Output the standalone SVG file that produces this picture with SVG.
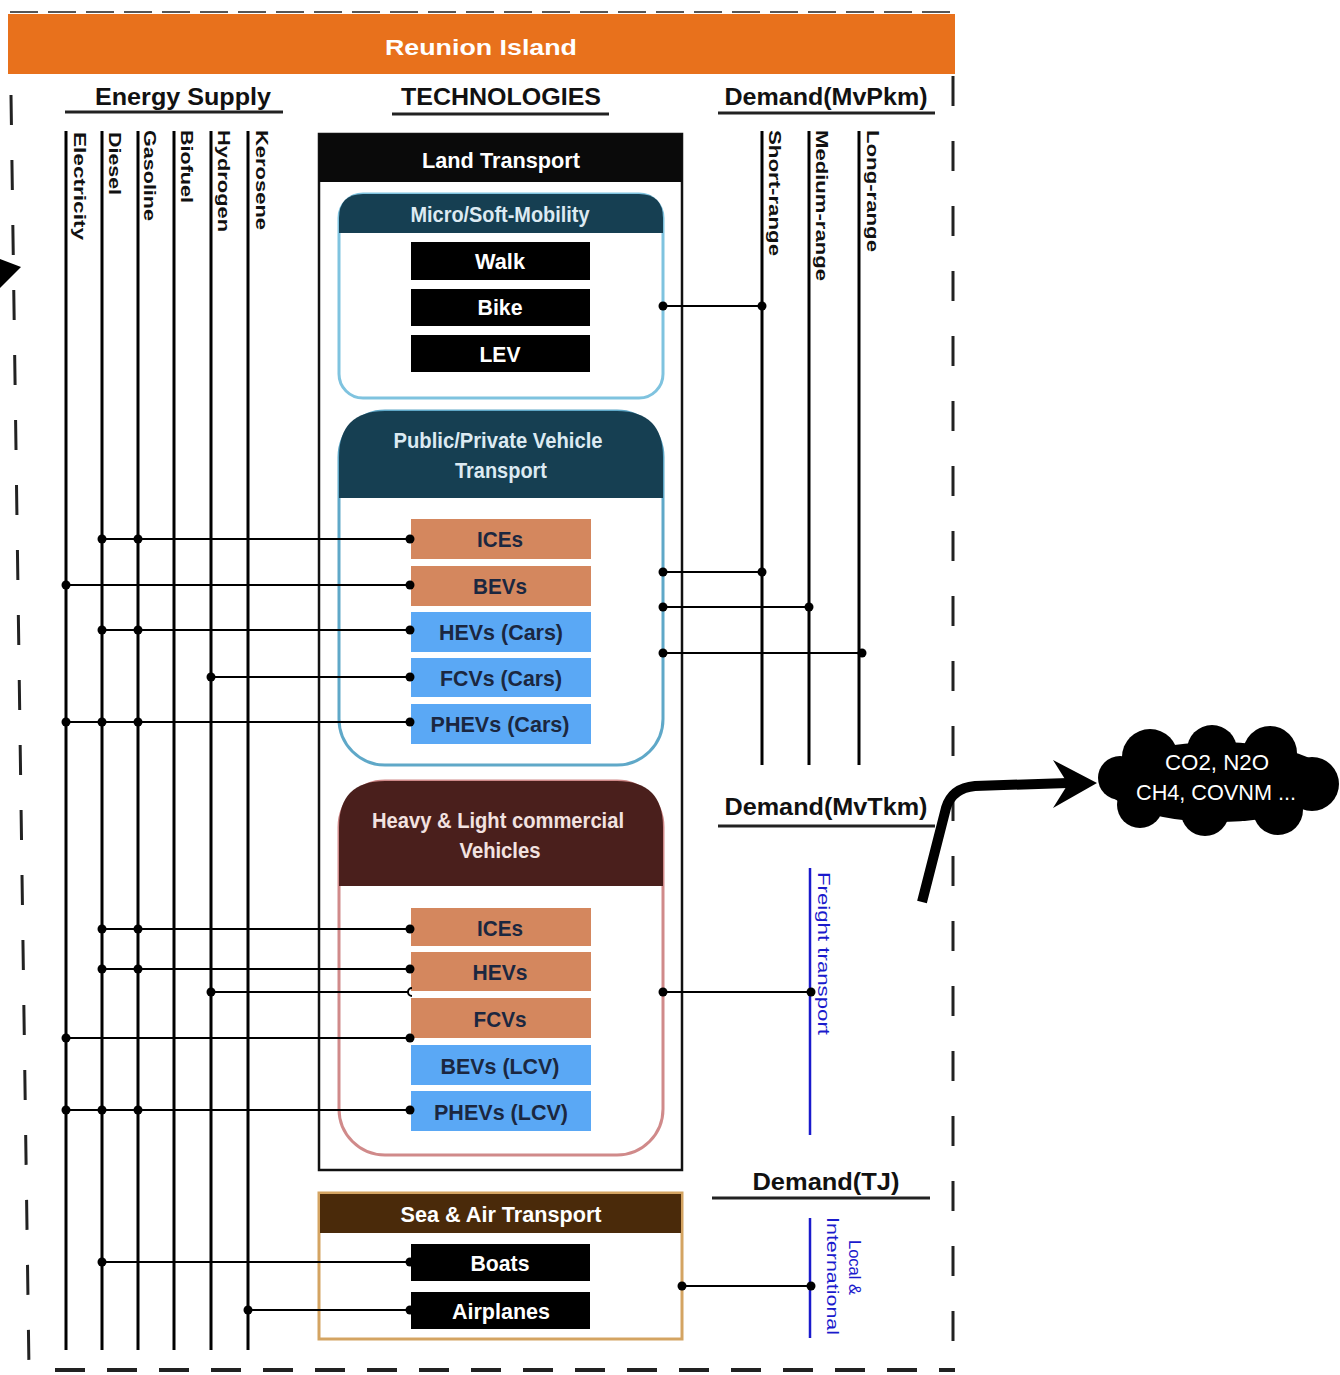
<svg xmlns="http://www.w3.org/2000/svg" width="1340" height="1375" viewBox="0 0 1340 1375">
<style>
text{font-family:"Liberation Sans",Arial,sans-serif;}
.hdr{font-weight:bold;font-size:24px;fill:#111;text-anchor:middle;}
.vl{font-weight:bold;font-size:17px;fill:#111;}
.wt{fill:#fff;font-weight:bold;font-size:22px;text-anchor:middle;}
.lt{fill:#dceaf2;font-weight:bold;font-size:22px;text-anchor:middle;}
.dk{fill:#1b2740;font-weight:bold;font-size:22px;text-anchor:middle;}
.blk{fill:#000;}
.org{fill:#d4875e;}
.blu{fill:#5aa8f5;}
.ln{stroke:#000;stroke-width:2;fill:none;}
.vln{stroke:#000;stroke-width:3;fill:none;}
.bl{stroke:#1a1acc;stroke-width:2.5;fill:none;}
.dash{stroke:#222;stroke-width:3;fill:none;stroke-dasharray:30 35;}
.ul{stroke:#222;stroke-width:3;}
</style>
<rect width="1340" height="1375" fill="#fff"/>

<!-- frame -->
<g id="frame">
<rect x="8" y="14" width="947" height="60" fill="#e8711c"/>
<line x1="10" y1="12" x2="955" y2="12" stroke="#555" stroke-width="2" stroke-dasharray="28 10"/>
<text x="481" y="55" class="wt" font-size="27" textLength="192" lengthAdjust="spacingAndGlyphs">Reunion Island</text>
<line x1="953" y1="76" x2="953" y2="1345" class="dash"/>
<line x1="11" y1="95" x2="29" y2="1370" class="dash"/>
<line x1="55" y1="1370" x2="955" y2="1370" stroke="#222" stroke-width="4" stroke-dasharray="30 22"/>
<polygon points="0,259 21,267 0,288" fill="#000"/>
</g>

<!-- column headers -->
<g id="headers">
<text x="183" y="105" class="hdr" textLength="176" lengthAdjust="spacingAndGlyphs">Energy Supply</text>
<line x1="65" y1="112" x2="283" y2="112" class="ul"/>
<text x="501" y="105" class="hdr" textLength="200" lengthAdjust="spacingAndGlyphs">TECHNOLOGIES</text>
<line x1="392" y1="114" x2="609" y2="114" class="ul"/>
<text x="826" y="105" class="hdr" textLength="203" lengthAdjust="spacingAndGlyphs">Demand(MvPkm)</text>
<line x1="718" y1="113" x2="935" y2="113" class="ul"/>
<text x="826" y="815" class="hdr" textLength="203" lengthAdjust="spacingAndGlyphs">Demand(MvTkm)</text>
<line x1="718" y1="826" x2="935" y2="826" class="ul"/>
<text x="826" y="1190" class="hdr" textLength="147" lengthAdjust="spacingAndGlyphs">Demand(TJ)</text>
<line x1="712" y1="1198" x2="930" y2="1198" class="ul"/>
</g>

<!-- energy supply lines -->
<g id="energy-supply">
<line x1="66" y1="131" x2="66" y2="1350" class="vln"/>
<line x1="102" y1="131" x2="102" y2="1350" class="vln"/>
<line x1="138" y1="131" x2="138" y2="1350" class="vln"/>
<line x1="174" y1="131" x2="174" y2="1350" class="vln"/>
<line x1="211" y1="131" x2="211" y2="1350" class="vln"/>
<line x1="248" y1="131" x2="248" y2="1350" class="vln"/>
<text class="vl" transform="translate(74,132) rotate(90)" textLength="108" lengthAdjust="spacingAndGlyphs">Electricity</text>
<text class="vl" transform="translate(109,132) rotate(90)" textLength="63" lengthAdjust="spacingAndGlyphs">Diesel</text>
<text class="vl" transform="translate(144,130) rotate(90)" textLength="91" lengthAdjust="spacingAndGlyphs">Gasoline</text>
<text class="vl" transform="translate(181,130) rotate(90)" textLength="73" lengthAdjust="spacingAndGlyphs">Biofuel</text>
<text class="vl" transform="translate(218,130) rotate(90)" textLength="102" lengthAdjust="spacingAndGlyphs">Hydrogen</text>
<text class="vl" transform="translate(256,130) rotate(90)" textLength="100" lengthAdjust="spacingAndGlyphs">Kerosene</text>
</g>

<!-- demand lines -->
<g id="demand">
<line x1="762" y1="131" x2="762" y2="765" class="vln"/>
<line x1="809" y1="131" x2="809" y2="765" class="vln"/>
<line x1="859" y1="131" x2="859" y2="765" class="vln"/>
<text class="vl" transform="translate(769,130) rotate(90)" textLength="126" lengthAdjust="spacingAndGlyphs">Short-range</text>
<text class="vl" transform="translate(816,130) rotate(90)" textLength="151" lengthAdjust="spacingAndGlyphs">Medium-range</text>
<text class="vl" transform="translate(867,130) rotate(90)" textLength="122" lengthAdjust="spacingAndGlyphs">Long-range</text>
<line x1="810" y1="868" x2="810" y2="1135" class="bl"/>
<text transform="translate(818,872) rotate(90)" font-size="17" fill="#1a1acc" textLength="163" lengthAdjust="spacingAndGlyphs">Freight transport</text>
<line x1="810" y1="1218" x2="810" y2="1338" class="bl"/>
<text transform="translate(827,1217) rotate(90)" font-size="16" fill="#1a1acc" textLength="118" lengthAdjust="spacingAndGlyphs">International</text>
<text transform="translate(849,1240) rotate(90)" font-size="16" fill="#1a1acc" textLength="55" lengthAdjust="spacingAndGlyphs">Local &amp;</text>
</g>

<!-- Land transport -->
<g id="land-transport">
<rect x="319" y="134" width="363" height="1036" fill="#fff" stroke="#111" stroke-width="2.5"/>
<rect x="319" y="134" width="363" height="48" fill="#0a0a0a"/>
<text x="501" y="168" class="wt" font-size="23" textLength="158" lengthAdjust="spacingAndGlyphs">Land Transport</text>
</g>

<g id="micro-mobility">
<rect x="339" y="194" width="324" height="204" rx="24" fill="#fff" stroke="#7fc3df" stroke-width="3"/>
<path d="M339,233 V218 Q339,194 363,194 H639 Q663,194 663,218 V233 Z" fill="#163f52"/>
<text x="500" y="222" class="lt" font-size="21" textLength="179" lengthAdjust="spacingAndGlyphs">Micro/Soft-Mobility</text>
</g>
<g id="walk"><rect x="411" y="242" width="179" height="38" class="blk"/><text x="500" y="269" class="wt" textLength="50" lengthAdjust="spacingAndGlyphs">Walk</text></g>
<g id="bike"><rect x="411" y="289" width="179" height="37" class="blk"/><text x="500" y="315" class="wt" textLength="45" lengthAdjust="spacingAndGlyphs">Bike</text></g>
<g id="lev"><rect x="411" y="335" width="179" height="37" class="blk"/><text x="500" y="362" class="wt" textLength="41" lengthAdjust="spacingAndGlyphs">LEV</text></g>

<g id="public-private">
<rect x="339" y="411" width="324" height="354" rx="46" fill="#fff" stroke="#5fa8c8" stroke-width="3"/>
<path d="M339,498 V457 Q339,411 385,411 H617 Q663,411 663,457 V498 Z" fill="#163f52"/>
<text x="498" y="448" class="lt" textLength="209" lengthAdjust="spacingAndGlyphs">Public/Private Vehicle</text>
<text x="501" y="478" class="lt" textLength="92" lengthAdjust="spacingAndGlyphs">Transport</text>
</g>
<g id="p-ices"><rect x="411" y="519" width="180" height="40" class="org"/><text x="500" y="547" class="dk" textLength="46" lengthAdjust="spacingAndGlyphs">ICEs</text></g>
<g id="p-bevs"><rect x="411" y="566" width="180" height="40" class="org"/><text x="500" y="594" class="dk" textLength="54" lengthAdjust="spacingAndGlyphs">BEVs</text></g>
<g id="p-hevs"><rect x="411" y="612" width="180" height="40" class="blu"/><text x="501" y="640" class="dk" textLength="124" lengthAdjust="spacingAndGlyphs">HEVs (Cars)</text></g>
<g id="p-fcvs"><rect x="411" y="658" width="180" height="39" class="blu"/><text x="501" y="686" class="dk" textLength="122" lengthAdjust="spacingAndGlyphs">FCVs (Cars)</text></g>
<g id="p-phevs"><rect x="411" y="704" width="180" height="40" class="blu"/><text x="500" y="732" class="dk" textLength="139" lengthAdjust="spacingAndGlyphs">PHEVs (Cars)</text></g>

<g id="heavy-light">
<rect x="339" y="781" width="324" height="374" rx="46" fill="#fff" stroke="#d08a8a" stroke-width="3"/>
<path d="M339,886 V827 Q339,781 385,781 H617 Q663,781 663,827 V886 Z" fill="#4a1f1c"/>
<text x="498" y="828" fill="#f2e2e0" font-weight="bold" font-size="22" text-anchor="middle" textLength="252" lengthAdjust="spacingAndGlyphs">Heavy &amp; Light commercial</text>
<text x="500" y="858" fill="#f2e2e0" font-weight="bold" font-size="22" text-anchor="middle" textLength="81" lengthAdjust="spacingAndGlyphs">Vehicles</text>
</g>
<g id="h-ices"><rect x="411" y="908" width="180" height="38" class="org"/><text x="500" y="936" class="dk" textLength="46" lengthAdjust="spacingAndGlyphs">ICEs</text></g>
<g id="h-hevs"><rect x="411" y="952" width="180" height="39" class="org"/><text x="500" y="980" class="dk" textLength="55" lengthAdjust="spacingAndGlyphs">HEVs</text></g>
<g id="h-fcvs"><rect x="411" y="998" width="180" height="40" class="org"/><text x="500" y="1027" class="dk" textLength="53" lengthAdjust="spacingAndGlyphs">FCVs</text></g>
<g id="h-bevs"><rect x="411" y="1045" width="180" height="40" class="blu"/><text x="500" y="1074" class="dk" textLength="119" lengthAdjust="spacingAndGlyphs">BEVs (LCV)</text></g>
<g id="h-phevs"><rect x="411" y="1091" width="180" height="40" class="blu"/><text x="501" y="1120" class="dk" textLength="134" lengthAdjust="spacingAndGlyphs">PHEVs (LCV)</text></g>

<g id="sea-air">
<rect x="319" y="1193" width="363" height="146" fill="#fff" stroke="#d4a462" stroke-width="3"/>
<rect x="320" y="1194" width="361" height="39" fill="#4a2a0a"/>
<text x="501" y="1222" class="wt" textLength="201" lengthAdjust="spacingAndGlyphs">Sea &amp; Air Transport</text>
</g>
<g id="boats"><rect x="411" y="1244" width="179" height="37" class="blk"/><text x="500" y="1271" class="wt" textLength="59" lengthAdjust="spacingAndGlyphs">Boats</text></g>
<g id="airplanes"><rect x="411" y="1292" width="179" height="37" class="blk"/><text x="501" y="1319" class="wt" textLength="98" lengthAdjust="spacingAndGlyphs">Airplanes</text></g>

<!-- connectors -->
<g id="connectors" fill="#000">
<g class="ln">
<line x1="102" y1="539" x2="410" y2="539"/>
<line x1="66" y1="585" x2="410" y2="585"/>
<line x1="102" y1="630" x2="410" y2="630"/>
<line x1="211" y1="677" x2="410" y2="677"/>
<line x1="66" y1="722" x2="410" y2="722"/>
<line x1="102" y1="929" x2="410" y2="929"/>
<line x1="102" y1="969" x2="410" y2="969"/>
<line x1="211" y1="992" x2="409" y2="992"/>
<line x1="66" y1="1038" x2="410" y2="1038"/>
<line x1="66" y1="1110" x2="410" y2="1110"/>
<line x1="102" y1="1262" x2="410" y2="1262"/>
<line x1="248" y1="1310" x2="410" y2="1310"/>
<line x1="663" y1="306" x2="762" y2="306"/>
<line x1="663" y1="572" x2="762" y2="572"/>
<line x1="663" y1="607" x2="809" y2="607"/>
<line x1="663" y1="653" x2="862" y2="653"/>
<line x1="663" y1="992" x2="811" y2="992"/>
<line x1="682" y1="1286" x2="811" y2="1286"/>
<path d="M412,988 A4,4 0 0 0 412,996"/>
</g>
<circle cx="102" cy="539" r="4.5"/><circle cx="138" cy="539" r="4.5"/><circle cx="410" cy="539" r="4.5"/>
<circle cx="66" cy="585" r="4.5"/><circle cx="410" cy="585" r="4.5"/>
<circle cx="102" cy="630" r="4.5"/><circle cx="138" cy="630" r="4.5"/><circle cx="410" cy="630" r="4.5"/>
<circle cx="211" cy="677" r="4.5"/><circle cx="410" cy="677" r="4.5"/>
<circle cx="66" cy="722" r="4.5"/><circle cx="102" cy="722" r="4.5"/><circle cx="138" cy="722" r="4.5"/><circle cx="410" cy="722" r="4.5"/>
<circle cx="102" cy="929" r="4.5"/><circle cx="138" cy="929" r="4.5"/><circle cx="410" cy="929" r="4.5"/>
<circle cx="102" cy="969" r="4.5"/><circle cx="138" cy="969" r="4.5"/><circle cx="410" cy="969" r="4.5"/>
<circle cx="211" cy="992" r="4.5"/>
<circle cx="66" cy="1038" r="4.5"/><circle cx="410" cy="1038" r="4.5"/>
<circle cx="66" cy="1110" r="4.5"/><circle cx="102" cy="1110" r="4.5"/><circle cx="138" cy="1110" r="4.5"/><circle cx="410" cy="1110" r="4.5"/>
<circle cx="102" cy="1262" r="4.5"/><circle cx="410" cy="1262" r="4.5"/>
<circle cx="248" cy="1310" r="4.5"/><circle cx="410" cy="1310" r="4.5"/>
<circle cx="663" cy="306" r="4.5"/><circle cx="762" cy="306" r="4.5"/>
<circle cx="663" cy="572" r="4.5"/><circle cx="762" cy="572" r="4.5"/>
<circle cx="663" cy="607" r="4.5"/><circle cx="809" cy="607" r="4.5"/>
<circle cx="663" cy="653" r="4.5"/><circle cx="862" cy="653" r="4.5"/>
<circle cx="663" cy="992" r="4.5"/><circle cx="811" cy="992" r="4.5"/>
<circle cx="682" cy="1286" r="4.5"/><circle cx="811" cy="1286" r="4.5"/>
<path d="M922,902 L946,808 Q952,788 975,786 L1068,783" stroke="#000" stroke-width="10" fill="none"/>
<polygon points="1053,760 1097,783 1053,808 1068,784" fill="#000"/>
</g>

<!-- emissions cloud -->
<g id="emissions">
<g fill="#000">
<ellipse cx="1218" cy="782" rx="114" ry="40"/>
<circle cx="1150" cy="757" r="28"/>
<circle cx="1212" cy="750" r="25"/>
<circle cx="1270" cy="753" r="27"/>
<circle cx="1312" cy="784" r="27"/>
<circle cx="1278" cy="810" r="25"/>
<circle cx="1205" cy="812" r="24"/>
<circle cx="1140" cy="805" r="23"/>
<circle cx="1120" cy="778" r="22"/>
</g>
<text x="1217" y="770" fill="#fff" font-size="22" text-anchor="middle" textLength="104" lengthAdjust="spacingAndGlyphs">CO2, N2O</text>
<text x="1216" y="800" fill="#fff" font-size="22" text-anchor="middle" textLength="160" lengthAdjust="spacingAndGlyphs">CH4, COVNM ...</text>
</g>
</svg>
